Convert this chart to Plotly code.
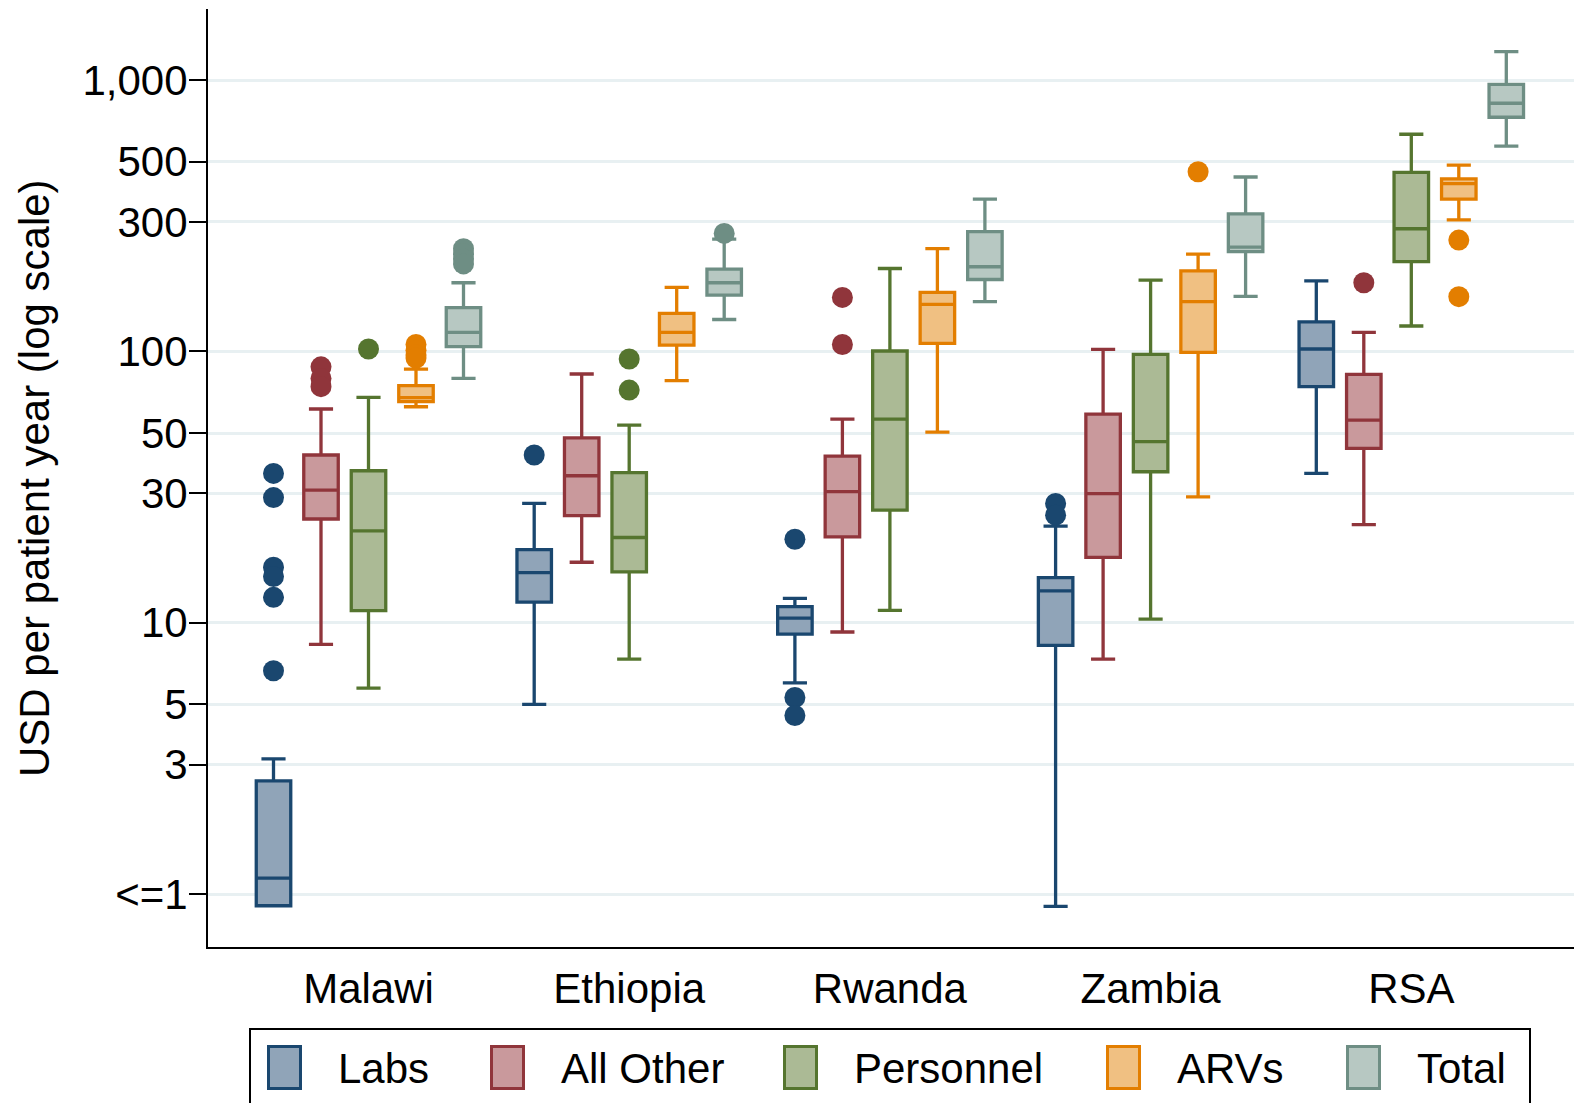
import plotly.graph_objects as go

# Countries on the x axis, in plotting order
countries = ["Malawi", "Ethiopia", "Rwanda", "Zambia", "RSA"]

# Cost components (one box per country for each)
series = ["Labs", "All Other", "Personnel", "ARVs", "Total"]

# Box statistics per component, listed in country order (USD per patient year)
labs_lower = [0.905, 5.0, 6.0, 0.90, 35.5]
labs_q1 = [0.905, 11.9, 9.08, 8.25, 74.1]
labs_median = [1.144, 15.3, 10.4, 13.1, 102]
labs_q3 = [2.61, 18.6, 11.45, 14.65, 128.5]
labs_upper = [3.15, 27.5, 12.3, 22.7, 182]
labs_outliers = [[35.5, 28.9, 16.0, 14.8, 12.4, 6.65], [41.5], [20.3, 5.3, 4.55], [27.5, 24.9], []]

other_lower = [8.32, 16.7, 9.24, 7.34, 23.0]
other_q1 = [24.1, 24.8, 20.7, 17.4, 43.9]
other_median = [30.8, 34.8, 30.4, 29.9, 55.8]
other_q3 = [41.5, 48.0, 41.1, 58.7, 82.3]
other_upper = [61.3, 82.5, 56.3, 101.7, 117.5]
other_outliers = [[87.7, 79.5, 74.1], [], [158, 106], [], [179]]

personnel_lower = [5.74, 7.34, 11.1, 10.3, 124]
personnel_q1 = [11.07, 15.4, 26.0, 36.0, 214]
personnel_median = [21.8, 20.6, 56.3, 46.5, 283]
personnel_q3 = [36.3, 35.7, 100.3, 97.5, 457]
personnel_upper = [67.7, 53.5, 202, 183, 631]
personnel_outliers = [[102], [93.7, 72], [], [], []]

arvs_lower = [62.5, 78, 50.4, 29.1, 305]
arvs_q1 = [65.3, 105.5, 107, 99.2, 364]
arvs_median = [67.5, 117.5, 149, 152.5, 415]
arvs_q3 = [74.7, 138, 165, 198, 432]
arvs_upper = [86, 172, 239, 228, 486]
arvs_outliers = [[106, 101, 97, 94.5], [], [], [459], [257, 159]]

total_lower = [79.5, 131, 152.5, 159.5, 571]
total_q1 = [104, 161, 184, 233, 729]
total_median = [117.5, 179, 205, 242, 821]
total_q3 = [145, 201, 276, 321, 964]
total_upper = [179, 259, 364, 439, 1272]
total_outliers = [[239, 229, 219, 210], [272], [], [], []]

# Y axis ticks (log scale)
y_tickvals = [1, 3, 5, 10, 30, 50, 100, 300, 500, 1000]
y_ticktext = ["<=1", "3", "5", "10", "30", "50", "100", "300", "500", "1,000"]

line_colors = ["#1a476f", "#90353b", "#55752f", "#e37e00", "#6e8e84"]
fill_colors = ["#90a4b8", "#c9999c", "#abba95", "#f0c082", "#b7c8c2"]

stats = [
    (labs_lower, labs_q1, labs_median, labs_q3, labs_upper, labs_outliers),
    (other_lower, other_q1, other_median, other_q3, other_upper, other_outliers),
    (personnel_lower, personnel_q1, personnel_median, personnel_q3, personnel_upper, personnel_outliers),
    (arvs_lower, arvs_q1, arvs_median, arvs_q3, arvs_upper, arvs_outliers),
    (total_lower, total_q1, total_median, total_q3, total_upper, total_outliers),
]

SLOT = 0.1822      # distance between neighbouring boxes in a country group
BOX_W = 0.1323     # box width in x data units
FONT = "Liberation Sans, Arial, Helvetica, sans-serif"

fig = go.Figure()

for j, (name, (lo, q1, med, q3, hi, outs)) in enumerate(zip(series, stats)):
    xs = [i + (j - 2) * SLOT for i in range(len(countries))]
    fig.add_trace(go.Box(
        name=name,
        x=xs,
        q1=q1, median=med, q3=q3,
        lowerfence=lo, upperfence=hi,
        width=BOX_W,
        whiskerwidth=0.7,
        boxpoints=False,
        line=dict(color=line_colors[j], width=3.3),
        fillcolor=fill_colors[j],
        showlegend=False,
    ))
    ox, oy = [], []
    for x, vals in zip(xs, outs):
        for v in vals:
            ox.append(x)
            oy.append(v)
    fig.add_trace(go.Scatter(
        x=ox, y=oy, mode="markers",
        marker=dict(color=line_colors[j], size=21, line=dict(width=0)),
        showlegend=False, hoverinfo="y",
    ))

# Figure geometry in pixels
W, H = 1574, 1103
ML, MR, MT, MB = 208, 0, 9, 156
PW, PH = W - ML - MR, H - MT - MB


def px_x(px):
    return (px - ML) / PW


def px_y(py):
    return (H - MB - py) / PH


# Legend drawn below the plot: frame, swatches and labels
shapes = [dict(type="rect", xref="paper", yref="paper",
               x0=px_x(250), x1=px_x(1530), y0=px_y(1112), y1=px_y(1029),
               line=dict(color="black", width=2), fillcolor="white", layer="above")]
annotations = []
swatch_left = [267, 490, 783, 1106, 1346]
for j, name in enumerate(series):
    x0 = swatch_left[j]
    shapes.append(dict(type="rect", xref="paper", yref="paper",
                       x0=px_x(x0 + 1.5), x1=px_x(x0 + 33.5),
                       y0=px_y(1088.5), y1=px_y(1046.5),
                       line=dict(color=line_colors[j], width=3),
                       fillcolor=fill_colors[j], layer="above"))
    annotations.append(dict(xref="paper", yref="paper",
                            x=px_x(x0 + 69), y=px_y(1068),
                            xanchor="left", yanchor="middle",
                            text=name, showarrow=False,
                            font=dict(family=FONT, size=42, color="black")))

# Rotated y axis title
annotations.append(dict(xref="paper", yref="paper", x=px_x(34), y=0.5,
                        xanchor="center", yanchor="middle", textangle=-90,
                        text="USD per patient year (log scale)", showarrow=False,
                        font=dict(family=FONT, size=42, color="black")))

fig.update_layout(
    width=W, height=H,
    margin=dict(l=ML, r=MR, t=MT, b=MB, autoexpand=False),
    paper_bgcolor="white", plot_bgcolor="white",
    boxmode="overlay",
    showlegend=False,
    font=dict(family=FONT, color="black"),
    shapes=shapes,
    annotations=annotations,
)

fig.update_xaxes(
    range=[(ML - 368.5) / 260.7, (W - 368.5) / 260.7],
    tickvals=list(range(len(countries))), ticktext=countries,
    tickfont=dict(family=FONT, size=42, color="black"),
    ticks="", ticklabelstandoff=4,
    showline=True, linecolor="black", linewidth=2,
    showgrid=False, zeroline=False,
)

fig.update_yaxes(
    type="log",
    range=[-0.1953, 3.2617],
    tickvals=y_tickvals, ticktext=y_ticktext,
    tickfont=dict(family=FONT, size=42, color="black"),
    ticks="outside", ticklen=17, tickwidth=2, tickcolor="black",
    ticklabelstandoff=-7,
    showline=True, linecolor="black", linewidth=2,
    showgrid=True, gridcolor="#e8f0f2", gridwidth=3,
    zeroline=False,
)

fig.write_html("out.html")
